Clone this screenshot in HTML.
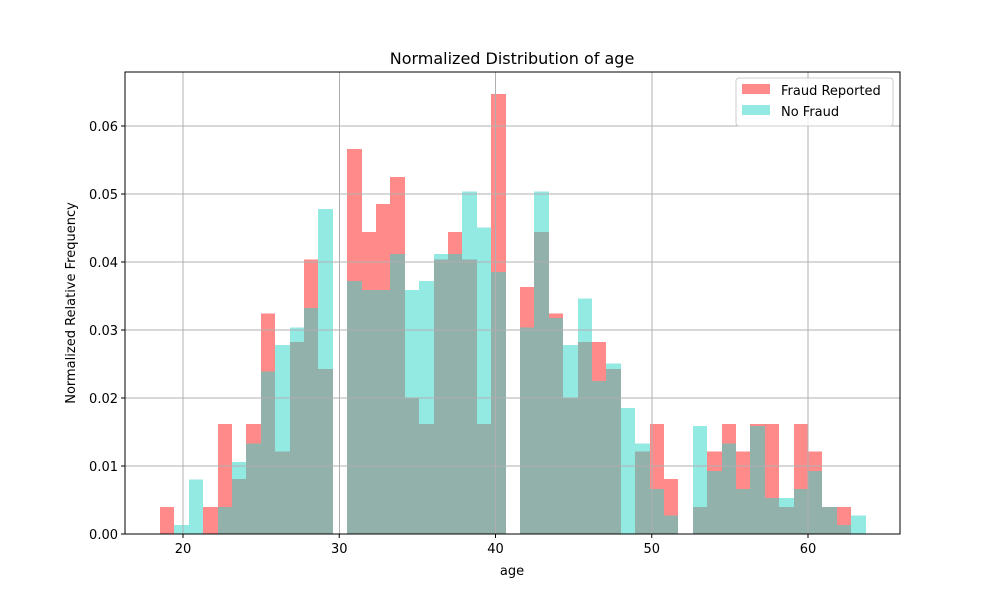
<!DOCTYPE html>
<html><head><meta charset="utf-8"><style>
body{margin:0;background:#fff;font-family:"Liberation Sans","DejaVu Sans",sans-serif;}
svg text{font-family:"DejaVu Sans","Liberation Sans",sans-serif;}
</style></head><body>
<svg id="chart" width="1000" height="600" xmlns="http://www.w3.org/2000/svg">
<rect width="1000" height="600" fill="#fff"/>
<g id="bars" shape-rendering="crispEdges"></g>
<g id="grid" shape-rendering="crispEdges"></g>
<g id="axes"></g>
</svg>
<script>
const binStart = 18.528;
const binWidth = 0.9216;
const fraud = [0.004,0,0,0.004,0.0162,0.0081,0.0162,0.0324,0.0121,0.0282,0.0404,0.0243,0,0.0566,0.0444,0.0485,0.0525,0.0201,0.0162,0.0404,0.0444,0.0404,0.0162,0.0647,0,0.0363,0.0444,0.0324,0.0201,0.0282,0.0282,0.0243,0,0.0121,0.0162,0.0081,0,0.004,0.0121,0.0162,0.0121,0.0162,0.0162,0.004,0.0162,0.0121,0.004,0.004,0];
const noFraud = [0,0.0013,0.008,0,0.004,0.0106,0.0133,0.0239,0.0278,0.0304,0.0332,0.0478,0,0.0372,0.0359,0.0359,0.0412,0.0359,0.0372,0.0412,0.0412,0.0504,0.0451,0.0385,0,0.0304,0.0504,0.0318,0.0278,0.0346,0.0225,0.0251,0.0185,0.0133,0.0066,0.0027,0,0.0159,0.0093,0.0133,0.0066,0.0159,0.0053,0.0053,0.0066,0.0093,0.004,0.0013,0.0027];
const xTicks = [20,30,40,50,60];
const yTicks = [0,0.01,0.02,0.03,0.04,0.05,0.06];
const yTickLabels = ["0.00","0.01","0.02","0.03","0.04","0.05","0.06"];

const L=125,R=900,T=72,B=534;
const xs = v => 183 + (v-20)*15.625;
const ys = v => B - v*6800;
const NS="http://www.w3.org/2000/svg";
function mk(tag, attrs, parent){const e=document.createElementNS(NS,tag);for(const k in attrs)e.setAttribute(k,attrs[k]);parent.appendChild(e);return e;}
const grid=document.getElementById('grid'),bars=document.getElementById('bars'),axes=document.getElementById('axes');

xTicks.forEach((t,i)=>{
  const g=mk('line',{x1:xs(t),x2:xs(t),y1:T,y2:B,stroke:'#b0b0b0','stroke-width':1},grid);
  
  
  mk('line',{x1:xs(t),x2:xs(t),y1:B,y2:B+4,stroke:'#000','stroke-width':1},axes);
  const tx=mk('text',{x:xs(t),y:B+19,'font-size':13,'text-anchor':'middle',fill:'#000'},axes);
  tx.textContent=t;
  
  
});
yTicks.forEach((t,i)=>{
  const g=mk('line',{x1:L,x2:R,y1:ys(t),y2:ys(t),stroke:'#b0b0b0','stroke-width':1},grid);
  
  
  mk('line',{x1:L-4,x2:L,y1:ys(t),y2:ys(t),stroke:'#000','stroke-width':1},axes);
  const tx=mk('text',{x:L-7,y:ys(t)+5,'font-size':13,'text-anchor':'end',fill:'#000'},axes);
  tx.textContent=yTickLabels[i];
  
  
});

for(let i=0;i<fraud.length;i++){
  const x0=Math.round(xs(binStart+i*binWidth)), x1=Math.round(xs(binStart+(i+1)*binWidth)), w=x1-x0;
  if(fraud[i]>0){
    const r=mk('rect',{x:x0,y:ys(fraud[i]),width:w,height:B-ys(fraud[i]),fill:'#ff8a8a'},bars);
    
    
  }
  if(noFraud[i]>0){
    const r=mk('rect',{x:x0,y:ys(noFraud[i]),width:w,height:B-ys(noFraud[i]),fill:'#93eae3'},bars);
    
    
  }
  const m=Math.min(fraud[i],noFraud[i]);
  if(m>0){
    const r=mk('rect',{x:x0,y:ys(m),width:w,height:B-ys(m),fill:'#92b1ab'},bars);
    
    
  }
}
const frame=mk('rect',{x:L,y:T,width:R-L,height:B-T,fill:'none',stroke:'#000','stroke-width':1},axes);


</script>
<svg style="position:absolute;left:0;top:0" width="1000" height="600" xmlns="http://www.w3.org/2000/svg">
<text x="512" y="64" font-size="16" text-anchor="middle" font-family="DejaVu Sans, Liberation Sans, sans-serif">Normalized Distribution of age</text>
<text x="512" y="575" font-size="13" text-anchor="middle" font-family="DejaVu Sans, Liberation Sans, sans-serif">age</text>
<text x="75" y="303" font-size="13" text-anchor="middle" transform="rotate(-90 75 303)" font-family="DejaVu Sans, Liberation Sans, sans-serif">Normalized Relative Frequency</text>
<g>
<rect x="736" y="78" width="157" height="48" rx="3" fill="#fff" fill-opacity="0.8" stroke="#ccc"/>
<rect x="742" y="84" width="28" height="10" fill="#ff8a8a"/>
<text x="781" y="95" font-size="13" font-family="DejaVu Sans, Liberation Sans, sans-serif">Fraud Reported</text>
<rect x="742" y="105" width="28" height="10" fill="#93eae3"/>
<text x="781" y="116" font-size="13" font-family="DejaVu Sans, Liberation Sans, sans-serif">No Fraud</text>
</g>
</svg>
</body></html>
